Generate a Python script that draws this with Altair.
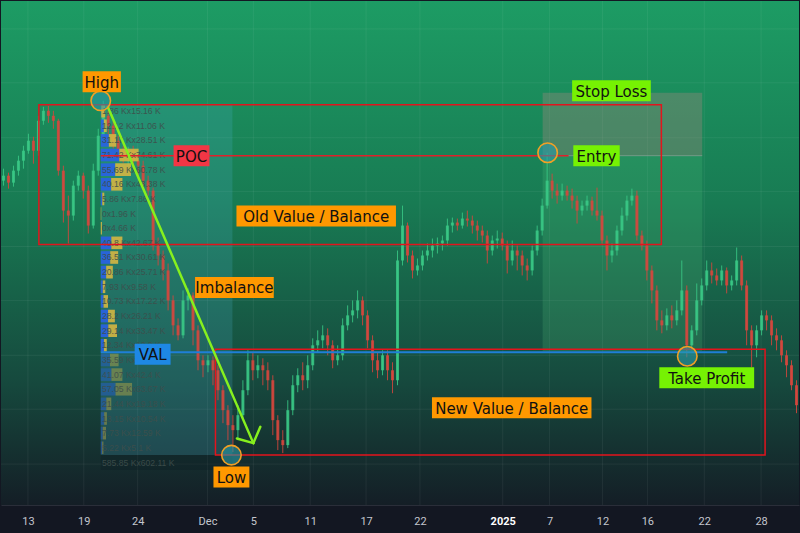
import altair as alt
import pandas as pd

# ---------------- price data (12h bars, price in points) ----------------
open_first = 420
close = [425, 418, 430, 440, 450, 460, 450, 480, 490, 485,
         480, 430, 390, 385, 415, 425, 410, 375, 430, 465,
         485, 475, 460, 450, 445, 450, 440, 435, 420, 410,
         355, 345, 330, 300, 275, 265, 300, 305, 270, 240,
         235, 240, 230, 210, 190, 175, 170, 185, 210, 240,
         230, 235, 230, 220, 180, 160, 155, 190, 215, 225,
         220, 235, 255, 260, 265, 255, 240, 245, 275, 285,
         290, 300, 285, 260, 240, 230, 245, 230, 220, 340,
         375, 345, 330, 335, 345, 350, 355, 357, 360, 375,
         378, 375, 382, 380, 375, 370, 365, 350, 360, 362,
         355, 340, 350, 345, 335, 330, 350, 370, 395, 420,
         410, 405, 410, 405, 400, 390, 395, 400, 390, 385,
         360, 345, 350, 370, 385, 400, 405, 365, 355, 330,
         310, 280, 275, 285, 280, 290, 310, 255, 270, 300,
         315, 330, 325, 320, 330, 315, 320, 340, 315, 270,
         255, 270, 285, 280, 265, 260, 245, 235, 215, 195]
high = [432, 428, 435, 445, 455, 467, 464, 485, 494, 495,
        490, 482, 435, 405, 420, 430, 428, 415, 437, 472,
        500, 490, 480, 465, 455, 454, 455, 445, 440, 425,
        413, 363, 350, 337, 305, 282, 310, 312, 308, 275,
        245, 245, 244, 235, 215, 195, 185, 195, 220, 250,
        248, 245, 242, 238, 225, 185, 170, 200, 225, 232,
        238, 245, 262, 270, 275, 272, 260, 255, 282, 295,
        300, 310, 304, 290, 265, 248, 250, 250, 238, 350,
        395, 378, 350, 342, 350, 357, 362, 363, 365, 382,
        383, 382, 388, 390, 385, 380, 375, 370, 365, 370,
        368, 360, 360, 355, 350, 342, 355, 375, 402, 448,
        427, 417, 417, 415, 412, 405, 400, 405, 404, 413,
        390, 365, 357, 375, 393, 405, 412, 410, 370, 360,
        335, 315, 290, 292, 295, 300, 340, 315, 275, 317,
        322, 340, 338, 332, 335, 333, 325, 353, 345, 320,
        275, 275, 290, 290, 285, 272, 265, 250, 240, 220]
low = [415, 412, 414, 425, 432, 447, 437, 445, 476, 478,
       472, 425, 378, 357, 380, 410, 402, 367, 372, 425,
       460, 465, 452, 442, 438, 435, 432, 425, 415, 405,
       350, 335, 320, 290, 265, 260, 262, 290, 255, 230,
       223, 228, 215, 200, 177, 160, 148, 160, 180, 205,
       220, 222, 215, 210, 165, 150, 147, 152, 185, 208,
       210, 212, 230, 248, 252, 245, 232, 235, 240, 270,
       278, 282, 275, 252, 228, 222, 225, 220, 207, 215,
       335, 338, 322, 325, 330, 340, 343, 347, 350, 355,
       368, 370, 372, 374, 367, 360, 358, 337, 345, 352,
       350, 327, 335, 330, 325, 320, 325, 345, 365, 392,
       402, 397, 400, 400, 392, 377, 385, 390, 385, 380,
       357, 330, 338, 345, 365, 380, 395, 360, 350, 320,
       297, 270, 267, 270, 272, 275, 285, 243, 250, 265,
       295, 310, 317, 315, 315, 307, 310, 315, 310, 255,
       233, 243, 265, 270, 255, 250, 238, 223, 210, 187]

# x-axis labels (bar index where each date falls)
tick_pos = [5.4, 16.6, 27.4, 41.4, 50.6, 62, 73.2, 84, 100.6, 110, 120.6, 129.6, 141, 152.4]
tick_text = ["13", "19", "24", "Dec", "5", "11", "17", "22", "2025", "7", "12", "16", "22", "28"]
grid_prices = [572, 518, 463, 409, 354, 300, 245, 191, 136]

# ---------------- volume profile (K) ----------------
vp_buy = [1.86, 12.12, 31.17, 71.42, 55.69, 40.16, 5.86, 0, 0, 40.8, 36.51, 20.86,
          7.93, 10.73, 28.2, 29.14, 12.34, 35.59, 41.07, 57.05, 21.44, 13.15, 7.73, 5.22]
vp_sell = [15.16, 11.06, 28.51, 74.61, 60.78, 43.38, 7.86, 1.96, 4.66, 42.67, 30.61, 25.71,
           9.58, 17.22, 26.21, 33.47, 10.9, 33.2, 42.4, 63.67, 19.18, 10.54, 12.59, 5.1]
vp_total = "585.85 Kx602.11 K"
vp_range_price = [497, 145]     # range high / low
vp_range_bars = [20, 46.4]      # High bar -> Low bar
vp_value_area_rows = 17

# ---------------- annotations ----------------
boxes = {"bar1": [7.6, 43], "bar2": [132.4, 153.2], "p1": [496, 251], "p2": [356, 145]}
zone_bars = [108.6, 140.6]
stop_zone = [508, 445]
target_zone = [445, 249]
poc = {"price": 445, "from": 20, "to": 113.8}
val = {"price": 248, "from": 20, "to": 145.6}
circle_bar = [20, 46.2, 109.6, 137.6]
circle_price = [500, 145, 448, 244]
arrow = {"bar": [21.4, 50.6, 50.6], "price": [494, 157, 157],
         "bar2": [50.6, 47.3, 52.0], "price2": [157, 161.7, 173.3]}
label_text = ["High", "POC", "Old Value / Balance", "Imbalance", "VAL", "Low",
              "New Value / Balance", "Stop Loss", "Entry", "Take Profit"]
label_bar = [20.2, 38.2, 63.2, 46.8, 30.4, 46.2, 102.4, 122.4, 119.4, 141.5]
label_price = [519, 445, 384.5, 313, 246, 123, 192.5, 510, 445, 222.5]
label_kind = ["orange", "red", "orange", "orange", "blue", "orange", "orange", "lime", "lime", "lime"]

# ---------------- build tables ----------------
W, H = 800, 533
AXIS_H = 28
x_dom = [0, 160]
y_dom = [95, 600]
PX_PER_BAR = W / (x_dom[1] - x_dom[0])
xs = alt.Scale(domain=x_dom, nice=False, zero=False, padding=0)
ys = alt.Scale(domain=y_dom, nice=False, zero=False, padding=0)

n = len(close)
opens = [open_first] + close[:-1]
candles = pd.DataFrame({
    "bar": [i + 0.5 for i in range(n)], "open": opens, "close": close,
    "high": high, "low": low,
    "dir": ["up" if c >= o else "down" for o, c in zip(opens, close)],
})

step = (vp_range_price[0] - vp_range_price[1]) / len(vp_buy)
K_TO_BAR = 0.052
vp_rows = []
vp_labels = []
for i, (b, s) in enumerate(zip(vp_buy, vp_sell)):
    top = vp_range_price[0] - i * step
    bot = top - step
    va = "in" if i < vp_value_area_rows else "out"
    x0 = vp_range_bars[0]
    x1 = x0 + b * K_TO_BAR
    x2 = x1 + s * K_TO_BAR
    vp_rows.append({"x": x0, "x2": x1, "y": top - 1, "y2": bot + 1, "side": "buy", "va": va})
    vp_rows.append({"x": x1, "x2": x2, "y": top - 1, "y2": bot + 1, "side": "sell", "va": va})
    fb = "0" if b == 0 else f"{b:g} K"
    fs = "0" if s == 0 else f"{s:g} K"
    vp_labels.append({"x": x0 + 0.25, "y": (top + bot) / 2, "t": f"{fb}x{fs}"})
vp_labels.append({"x": vp_range_bars[0] + 0.25, "y": vp_range_price[1] - 8, "t": vp_total})
vp_rows = pd.DataFrame(vp_rows)
vp_labels = pd.DataFrame(vp_labels)

lab = pd.DataFrame({"t": label_text, "x": label_bar, "y": label_price, "k": label_kind})
lab["w"] = [max(36, len(t) * 8.1 + 6) for t in lab["t"]]
lab["x1"] = lab["x"] - lab["w"] / 2 / PX_PER_BAR
lab["x2"] = lab["x"] + lab["w"] / 2 / PX_PER_BAR
lab["y1"] = lab["y"] - 10.5
lab["y2"] = lab["y"] + 10.5

# ---------------- axis ----------------
yr_pos = tick_pos[tick_text.index("2025")]
axis_x = alt.Axis(
    values=tick_pos,
    labelExpr="[" + ",".join(f"'{t}'" for t in tick_text) + "][indexof([" +
              ",".join(f"{p:g}" for p in tick_pos) + "], datum.value)]",
    grid=False, ticks=False, domain=True, domainColor="#2a2e39", title=None,
    labelColor={"condition": {"test": f"datum.value == {yr_pos:g}", "value": "#ffffff"}, "value": "#c3c6ce"},
    labelFontWeight={"condition": {"test": f"datum.value == {yr_pos:g}", "value": "bold"}, "value": "normal"},
    labelFont="Roboto", labelFontSize=11, labelPadding=10,
    labelOverlap=False, labelFlush=False, minExtent=AXIS_H, maxExtent=AXIS_H,
)


def X(f):
    return alt.X(f, type="quantitative", scale=xs, axis=axis_x)


def Y(f):
    return alt.Y(f, type="quantitative", scale=ys, axis=None)


def one(**kw):
    return pd.DataFrame({k: [v] for k, v in kw.items()})


# ---------------- layers ----------------
bg = alt.Chart(one(x=x_dom[0], x2=x_dom[1], y=y_dom[0], y2=y_dom[1])).mark_rect(
    color=alt.Gradient(gradient="linear", x1=0, x2=0, y1=0, y2=1, stops=[
        alt.GradientStop(color="#1d9c64", offset=0),
        alt.GradientStop(color="#187b53", offset=0.4),
        alt.GradientStop(color="#164a3e", offset=0.75),
        alt.GradientStop(color="#141e26", offset=1),
    ])
).encode(x=X("x"), x2="x2:Q", y=Y("y"), y2="y2:Q")

vgrid = alt.Chart(pd.DataFrame({"x": tick_pos, "y": y_dom[0], "y2": y_dom[1]})).mark_rule(
    color="#ffffff", opacity=0.06, strokeWidth=1).encode(x=X("x"), y=Y("y"), y2="y2:Q")
hgrid = alt.Chart(pd.DataFrame({"y": grid_prices, "x": x_dom[0], "x2": x_dom[1]})).mark_rule(
    color="#ffffff", opacity=0.06, strokeWidth=1).encode(y=Y("y"), x=X("x"), x2="x2:Q")


def rect(df_kw, **mark):
    return alt.Chart(one(**df_kw)).mark_rect(**mark).encode(x=X("x"), x2="x2:Q", y=Y("y"), y2="y2:Q")


vp_band = rect(dict(x=vp_range_bars[0], x2=vp_range_bars[1], y=vp_range_price[0], y2=vp_range_price[1]),
               color="#4fb6d8", opacity=0.2)
vp_foot = rect(dict(x=vp_range_bars[0], x2=vp_range_bars[1], y=vp_range_price[1], y2=vp_range_price[1] - 15),
               color="#0d1a22", opacity=0.3)
stop_r = rect(dict(x=zone_bars[0], x2=zone_bars[1], y=stop_zone[0], y2=stop_zone[1]),
              color="#a8887f", opacity=0.35)
targ_r = rect(dict(x=zone_bars[0], x2=zone_bars[1], y=target_zone[0], y2=target_zone[1]),
              color="#63d486", opacity=0.17)
zone_mid = alt.Chart(one(x=zone_bars[0], x2=zone_bars[1], y=stop_zone[1])).mark_rule(
    color="#9aa6a0", opacity=0.6, strokeWidth=1).encode(x=X("x"), x2="x2:Q", y=Y("y"))

col = alt.Color("dir:N", scale=alt.Scale(domain=["up", "down"], range=["#39c986", "#d8473d"]), legend=None)
wicks = alt.Chart(candles).mark_rule(strokeWidth=1, opacity=0.85).encode(
    x=X("bar"), y=Y("low"), y2="high:Q", color=col)
bodies = alt.Chart(candles).mark_bar(size=3, opacity=0.85).encode(
    x=X("bar"), y=Y("open"), y2="close:Q", color=col)

vp_bars = alt.Chart(vp_rows).mark_rect().encode(
    x=X("x"), x2="x2:Q", y=Y("y"), y2="y2:Q",
    color=alt.Color("side:N", scale=alt.Scale(domain=["buy", "sell"], range=["#2962e6", "#d4b642"]), legend=None),
    opacity=alt.Opacity("va:N", scale=alt.Scale(domain=["in", "out"], range=[0.9, 0.4]), legend=None))
vp_text = alt.Chart(vp_labels).mark_text(align="left", baseline="middle", font="Liberation Sans", fontSize=8.6,
                                         color="#3f4f4c", opacity=0.9).encode(
    x=X("x"), y=Y("y"), text="t:N")

old_box = rect(dict(x=boxes["bar1"][0], x2=boxes["bar2"][0], y=boxes["p1"][0], y2=boxes["p2"][0]),
               fillOpacity=0, stroke="#e3141d", strokeWidth=1.5)
new_box = rect(dict(x=boxes["bar1"][1], x2=boxes["bar2"][1], y=boxes["p1"][1], y2=boxes["p2"][1]),
               fillOpacity=0, stroke="#e3141d", strokeWidth=1.5)


def hline(d, color, w):
    return alt.Chart(one(x=d["from"], x2=d["to"], y=d["price"])).mark_rule(color=color, strokeWidth=w).encode(
        x=X("x"), x2="x2:Q", y=Y("y"))


poc_line = hline(poc, "#e0202a", 1.5)
val_line = hline(val, "#1f7fd6", 2)

arrow_df = pd.DataFrame({"x": arrow["bar"], "y": arrow["price"], "x2": arrow["bar2"], "y2": arrow["price2"]})
arrow_l = alt.Chart(arrow_df).mark_rule(color="#86f01e", strokeWidth=2.5, strokeCap="round").encode(
    x=X("x"), y=Y("y"), x2="x2:Q", y2="y2:Q")

circles = alt.Chart(pd.DataFrame({"x": circle_bar, "y": circle_price})).mark_point(
    shape="circle", size=380, filled=True, fill="#2a9aa6", fillOpacity=0.6,
    stroke="#f2a024", strokeWidth=1.6, strokeOpacity=1).encode(x=X("x"), y=Y("y"))

lab_boxes = alt.Chart(lab).mark_rect().encode(
    x=X("x1"), x2="x2:Q", y=Y("y1"), y2="y2:Q",
    color=alt.Color("k:N", scale=alt.Scale(domain=["orange", "red", "blue", "lime"],
                                           range=["#ff9800", "#f23645", "#1e88e5", "#76f203"]), legend=None))
lab_text = alt.Chart(lab).mark_text(font="DejaVu Sans", fontSize=15, color="#111111",
                                    align="center", baseline="middle", dy=1).encode(
    x=X("x"), y=Y("y"), text="t:N")

chart = alt.layer(
    bg, vgrid, hgrid, vp_band, vp_foot, stop_r, targ_r, zone_mid,
    wicks, bodies, vp_bars, vp_text, old_box, new_box, poc_line, val_line,
    arrow_l, circles, lab_boxes, lab_text,
).resolve_scale(
    color="independent", opacity="independent"
).properties(
    width=W, height=H,
    autosize=alt.AutoSizeParams(type="fit", contains="padding"),
    padding={"left": 0, "top": 0, "right": 0, "bottom": 0},
    background="#131722",
).configure_view(stroke=None)

chart.save("out.html", embed_options={"renderer": "svg", "actions": False})
